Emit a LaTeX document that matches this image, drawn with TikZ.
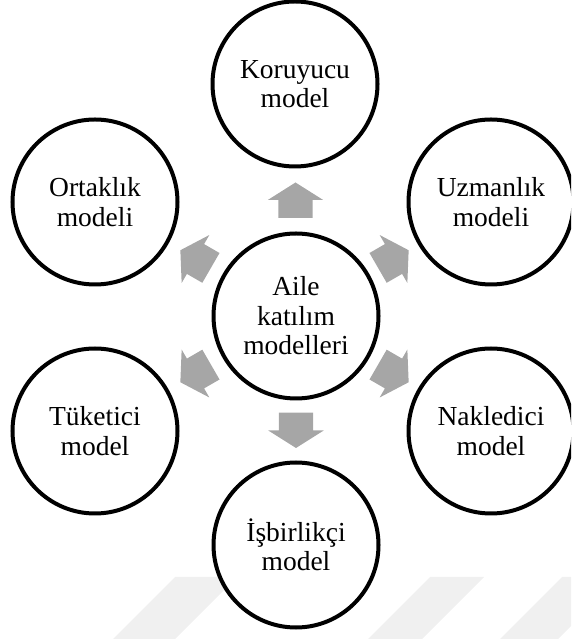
\documentclass[tikz,border=0pt]{standalone}
\usepackage{fontspec}
\setmainfont{Liberation Serif}
\usetikzlibrary{calc}
\definecolor{okgri}{RGB}{166,166,166}
\definecolor{filigri}{RGB}{240,240,240}
\tikzset{
  model/.style={circle, draw=black, line width=4pt, fill=white,
                minimum size=165pt, inner sep=0pt, align=center,
                font=\fontsize{27.5}{29.5}\selectfont},
  okblok/.style={fill=okgri, draw=none},
  filigran/.style={fill=filigri, draw=none}
}
\begin{document}
\begin{tikzpicture}[x=1pt, y=1pt]
  \useasboundingbox (0,0) rectangle (571,639);
  \clip (0,0) rectangle (571,639);
  % filigran
  \fill[filigran] (113,0) -- (175,62) -- (237,62) -- (175,0) -- cycle;
  \fill[filigran] (368,0) -- (430,62) -- (484,62) -- (422,0) -- cycle;
  \fill[filigran] (500,0) -- (562,62) -- (620,62) -- (558,0) -- cycle;
  % modeller
  \node[model] (ail) at (296,323) {Aile\\katılım\\modelleri};
  \node[model] (kor) at (295,555) {Koruyucu\\model};
  \node[model] (uzm) at (491,437) {Uzmanlık\\modeli};
  \node[model] (nak) at (491,208) {Nakledici\\model};
  \node[model] (isb) at (296,94) {İşbirlikçi\\model};
  \node[model] (tuk) at (95,208) {Tüketici\\model};
  \node[model] (ort) at (95,437) {Ortaklık\\modeli};
  % oklar
  \foreach \hedef/\aci in {kor/90, uzm/30, nak/-30, isb/-90, tuk/-150, ort/150}
    \fill[okblok, shift={($(ail)!0.5!(\hedef)$)}, rotate=\aci]
      (-17.8,-17.2) -- (0,-17.2) -- (0,-27.7) -- (17.5,0) -- (0,27.7)
      -- (0,17.2) -- (-17.8,17.2) -- cycle;
\end{tikzpicture}
\end{document}
